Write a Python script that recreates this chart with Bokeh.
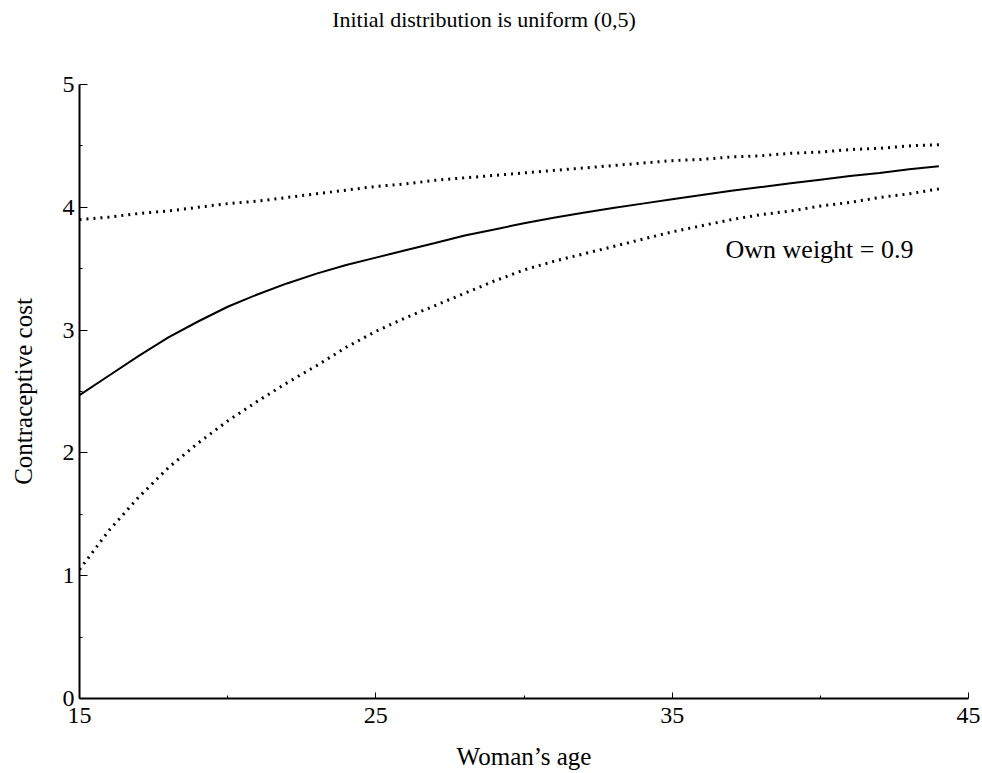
from bokeh.plotting import figure
from bokeh.models import FixedTicker, Range1d, Label, Div
from bokeh.layouts import column
from bokeh.embed import file_html
from bokeh.resources import INLINE

FONT = "Liberation Serif"

title_text = "Initial distribution is uniform (0,5)"
x_label = "Woman\u2019s age"
y_label = "Contraceptive cost"
annot_text = "Own weight = 0.9"

ages = [15, 16, 17, 18, 19, 20, 21, 22, 23, 24, 25, 26, 27, 28, 29,
        30, 31, 32, 33, 34, 35, 36, 37, 38, 39, 40, 41, 42, 43, 44]
upper = [3.90, 3.92, 3.95, 3.97, 4.00, 4.03, 4.05, 4.08, 4.11, 4.14,
         4.17, 4.19, 4.22, 4.24, 4.26, 4.28, 4.30, 4.32, 4.34, 4.36,
         4.38, 4.39, 4.41, 4.42, 4.44, 4.45, 4.47, 4.48, 4.50, 4.51]
middle = [2.47, 2.63, 2.79, 2.94, 3.07, 3.19, 3.29, 3.38, 3.46, 3.53,
          3.59, 3.65, 3.71, 3.77, 3.82, 3.87, 3.915, 3.955, 3.995, 4.03,
          4.065, 4.10, 4.135, 4.165, 4.195, 4.225, 4.255, 4.28, 4.31, 4.335]
lower = [1.05, 1.37, 1.64, 1.88, 2.08, 2.26, 2.42, 2.57, 2.71, 2.86,
         2.99, 3.10, 3.20, 3.30, 3.40, 3.49, 3.56, 3.62, 3.68, 3.74,
         3.80, 3.85, 3.90, 3.94, 3.97, 4.01, 4.04, 4.08, 4.11, 4.15]

x_major = [15, 25, 35, 45]
x_minor = [20, 30, 40]
y_major = [0, 1, 2, 3, 4, 5]
y_minor = [0.5, 1.5, 2.5, 3.5, 4.5]

annot_x = 36.8
annot_y = 3.66

title_div = Div(text=title_text, width=968, height=40, margin=0,
                styles={"font-family": FONT, "font-size": "22px",
                        "line-height": "40px", "text-align": "center",
                        "color": "black", "width": "968px"})

p = figure(width=982, height=733, output_backend="svg", toolbar_location=None,
           x_range=Range1d(15, 45), y_range=Range1d(0, 5),
           min_border_left=79, min_border_right=14, min_border_top=44,
           min_border_bottom=75, margin=0)
p.outline_line_color = None
p.xgrid.visible = False
p.ygrid.visible = False
p.background_fill_color = "white"
p.border_fill_color = "white"

p.line(ages, upper, line_color="black", line_width=3, line_dash="2 5")
p.line(ages, middle, line_color="black", line_width=2)
p.line(ages, lower, line_color="black", line_width=3, line_dash="2 5")

p.add_layout(Label(x=annot_x, y=annot_y, text=annot_text, text_font=FONT,
                   text_font_size="26px", text_baseline="middle",
                   text_align="left", text_color="black"))

xa = p.xaxis[0]
xa.ticker = FixedTicker(ticks=x_major, minor_ticks=x_minor)
xa.axis_label = x_label
xa.axis_label_text_font = FONT
xa.axis_label_text_font_size = "25px"
xa.axis_label_text_font_style = "normal"
xa.axis_label_standoff = 17
xa.major_label_text_font = FONT
xa.major_label_text_font_size = "24px"
xa.major_label_standoff = 9
xa.major_tick_in = 6
xa.major_tick_out = 0
xa.minor_tick_in = 3
xa.minor_tick_out = 0
xa.axis_line_width = 2
xa.axis_line_color = "black"
xa.major_tick_line_color = "black"
xa.minor_tick_line_color = "black"
xa.major_label_text_color = "black"
xa.axis_label_text_color = "black"

ya = p.yaxis[0]
ya.ticker = FixedTicker(ticks=y_major, minor_ticks=y_minor)
ya.axis_label = y_label
ya.axis_label_text_font = FONT
ya.axis_label_text_font_size = "25px"
ya.axis_label_text_font_style = "normal"
ya.axis_label_standoff = 23
ya.major_label_text_font = FONT
ya.major_label_text_font_size = "24px"
ya.major_label_standoff = 5
ya.major_tick_in = 8
ya.major_tick_out = 0
ya.minor_tick_in = 3
ya.minor_tick_out = 0
ya.axis_line_width = 2
ya.axis_line_color = "black"
ya.major_tick_line_color = "black"
ya.minor_tick_line_color = "black"
ya.major_label_text_color = "black"
ya.axis_label_text_color = "black"

layout = column(title_div, p, spacing=0, margin=0)

open("out.html", "w").write(file_html(layout, INLINE))
